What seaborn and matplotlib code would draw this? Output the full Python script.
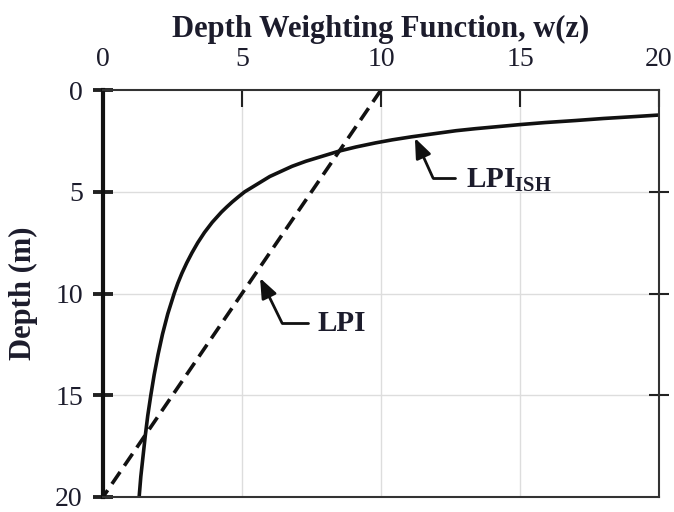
import matplotlib
matplotlib.use("Agg")
import matplotlib.pyplot as plt
import seaborn as sns
import pandas as pd

# Data
ish_depth = [1.23, 1.3, 1.4, 1.5, 1.6, 1.7, 1.8, 1.9, 2.0, 2.15, 2.3, 2.45, 2.6, 2.8, 3.0, 3.25,
             3.5, 3.75, 4.0, 4.25, 4.5, 4.75, 5.0, 5.25, 5.5, 5.75, 6.0, 6.5, 7.0, 7.5, 8.0, 8.5,
             9.0, 9.5, 10.0, 11.0, 12.0, 13.0, 14.0, 15.0, 16.0, 17.0, 18.0, 19.0, 20.0]
ish_w = [20.0, 19.2, 18.0, 17.0, 15.9, 15.0, 14.2, 13.4, 12.7, 11.9, 11.1, 10.4, 9.8, 9.1, 8.5, 7.9,
         7.3, 6.8, 6.4, 6.0, 5.7, 5.4, 5.1, 4.87, 4.65, 4.45, 4.26, 3.93, 3.65, 3.41, 3.2, 3.01,
         2.84, 2.69, 2.56, 2.33, 2.14, 1.98, 1.84, 1.72, 1.61, 1.52, 1.44, 1.36, 1.3]
lpi_depth = [0, 20]
lpi_w = [10, 0]
ticks = [0, 5, 10, 15, 20]

sns.set_theme(style="white")
plt.rcParams['font.family'] = ['Liberation Serif', 'DejaVu Serif']
plt.rcParams['mathtext.fontset'] = 'custom'
plt.rcParams['mathtext.rm'] = 'Liberation Serif:bold'
plt.rcParams['mathtext.bf'] = 'Liberation Serif:bold'
plt.rcParams['mathtext.it'] = 'Liberation Serif:bold'

TXT = "#1c1c2c"
fig = plt.figure(figsize=(6.74, 5.12), dpi=100)
ax = fig.add_axes([103/674, 1-497/512, 556/674, 407/512])

df_ish = pd.DataFrame({"w": ish_w, "z": ish_depth})
df_lpi = pd.DataFrame({"w": lpi_w, "z": lpi_depth})
sns.lineplot(data=df_ish, x="w", y="z", sort=False, estimator=None, color="#111111", lw=2.6, ax=ax)
sns.lineplot(data=df_lpi, x="w", y="z", sort=False, estimator=None, color="#111111", lw=2.6,
             linestyle=(0, (4, 2.1)), ax=ax)

ax.set_xlim(0, 20)
ax.set_ylim(20, 0)
ax.set_xticks(ticks)
ax.set_yticks(ticks)
ax.xaxis.tick_top()
ax.xaxis.set_label_position("top")
ax.set_xlabel("Depth Weighting Function, w(z)", fontsize=22, fontweight="bold", labelpad=7,
              color=TXT)
ax.set_ylabel("Depth (m)", fontsize=22, fontweight="bold", labelpad=12, color=TXT)

for v in [5, 10, 15]:
    ax.axvline(v, color="#dddddd", lw=1.0, zorder=0)
    ax.axhline(v, color="#dddddd", lw=1.0, zorder=0)

ax.tick_params(axis="x", which="both", direction="in", length=12, width=1.5, colors="#222222",
               labelsize=20, pad=13, top=True, bottom=False, labeltop=True, labelbottom=False)
ax.tick_params(axis="y", which="both", direction="inout", length=15, width=2.8, colors="#222222",
               labelsize=20, pad=7, left=True, right=False)
for lab in ax.get_xticklabels() + ax.get_yticklabels():
    lab.set_color(TXT)

# right side ticks
axr = ax.secondary_yaxis("right")
axr.set_yticks([5, 10, 15])
axr.tick_params(direction="inout", length=15, width=1.5, colors="#222222", labelright=False)
axr.spines["right"].set_visible(False)

for s in ["top", "right", "bottom"]:
    ax.spines[s].set_visible(True)
    ax.spines[s].set_linewidth(1.5)
    ax.spines[s].set_color("#333333")
ax.spines["left"].set_linewidth(3.0)
ax.spines["left"].set_color("#111111")

arrow = dict(arrowstyle="-|>,head_length=1.0,head_width=0.4", color="#111111", lw=2.0,
             shrinkA=0, shrinkB=0)
# LPI_ISH annotation
ax.annotate("", xy=(11.22, 2.36), xytext=(11.87, 4.32), arrowprops=arrow)
ax.plot([11.87, 12.66], [4.32, 4.32], color="#111111", lw=2.0)
ax.text(13.05, 4.45, r"LPI$_{\mathrm{ISH}}$", fontsize=21, fontweight="bold", va="center",
        ha="left", color=TXT)
# LPI annotation
ax.annotate("", xy=(5.65, 9.24), xytext=(6.44, 11.45), arrowprops=arrow)
ax.plot([6.44, 7.37], [11.45, 11.45], color="#111111", lw=2.0)
ax.text(7.7, 11.45, "LPI", fontsize=21, fontweight="bold", va="center", ha="left", color=TXT)

fig.savefig("out.png", dpi=100)
